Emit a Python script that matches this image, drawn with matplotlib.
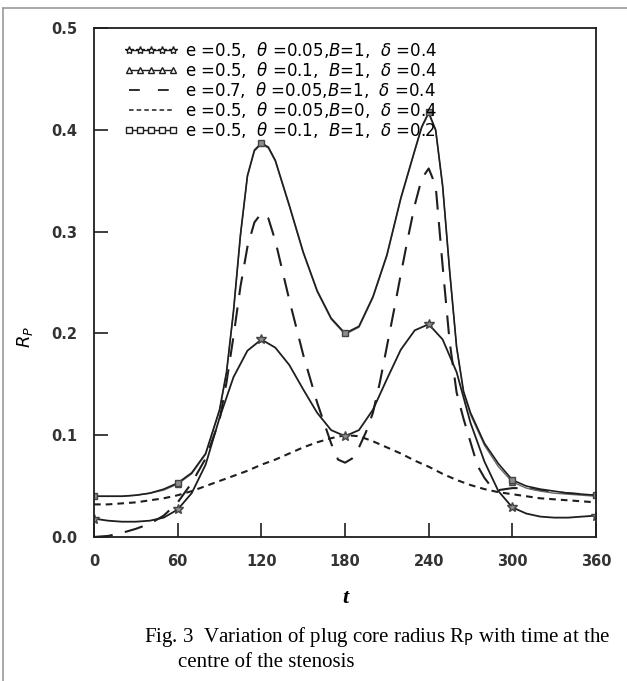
import numpy as np
import matplotlib.pyplot as plt
from matplotlib.lines import Line2D

# t in degrees, R_p
t_star = list(range(0, 361, 10))
r_star = [0.018, 0.016, 0.015, 0.015, 0.016, 0.019, 0.027, 0.043, 0.071, 0.117,
          0.157, 0.183, 0.194, 0.186, 0.169, 0.145, 0.122, 0.105, 0.099, 0.105,
          0.125, 0.155, 0.184, 0.203, 0.209, 0.194, 0.162, 0.112, 0.074, 0.045,
          0.029, 0.023, 0.020, 0.019, 0.019, 0.020, 0.021]

t_sq = [0, 10, 20, 30, 40, 50, 60, 70, 80, 90, 95, 100, 105, 110, 115, 120, 125, 130,
        140, 150, 160, 170, 180, 190, 200, 210, 220, 230, 235, 240, 245, 250, 255,
        260, 265, 270, 280, 290, 300, 310, 320, 330, 340, 350, 360]
r_sq = [0.040, 0.040, 0.040, 0.041, 0.043, 0.047, 0.053, 0.063, 0.082, 0.125, 0.162,
        0.222, 0.297, 0.355, 0.380, 0.387, 0.383, 0.370, 0.326, 0.280, 0.242, 0.215,
        0.200, 0.207, 0.236, 0.277, 0.333, 0.380, 0.403, 0.417, 0.400, 0.345, 0.262,
        0.187, 0.143, 0.122, 0.092, 0.072, 0.056, 0.050, 0.047, 0.045, 0.043, 0.042,
        0.041]
r_tri = [0.040, 0.040, 0.040, 0.041, 0.043, 0.046, 0.052, 0.062, 0.081, 0.124, 0.161,
         0.221, 0.296, 0.354, 0.379, 0.386, 0.382, 0.369, 0.325, 0.279, 0.241, 0.214,
         0.199, 0.206, 0.235, 0.276, 0.332, 0.379, 0.402, 0.416, 0.399, 0.344, 0.261,
         0.186, 0.142, 0.120, 0.090, 0.069, 0.054, 0.048, 0.045, 0.043, 0.042, 0.041,
         0.040]

t_ld = [0, 10, 20, 30, 40, 50, 60, 70, 80, 90, 95, 100, 105, 110, 115, 120, 125, 130,
        140, 150, 160, 170, 175, 180, 185, 190, 195, 200, 205, 210, 215, 220, 225, 230,
        235, 240, 245, 250, 255, 260, 265, 270, 275, 280, 285, 290, 300, 310, 320, 330,
        340, 350, 360]
r_ld = [0.000, 0.001, 0.004, 0.008, 0.013, 0.021, 0.034, 0.053, 0.077, 0.115, 0.152,
        0.197, 0.246, 0.285, 0.309, 0.318, 0.313, 0.291, 0.233, 0.179, 0.132, 0.092,
        0.076, 0.073, 0.077, 0.088, 0.103, 0.122, 0.152, 0.187, 0.222, 0.258, 0.293,
        0.326, 0.352, 0.362, 0.345, 0.266, 0.192, 0.142, 0.116, 0.093, 0.070, 0.058,
        0.049, 0.046, 0.048, 0.048, 0.046, 0.044, 0.043, 0.042, 0.041]

t_sd = list(range(0, 361, 10))
r_sd = [0.032, 0.032, 0.033, 0.034, 0.036, 0.038, 0.041, 0.045, 0.050, 0.055,
        0.060, 0.065, 0.071, 0.076, 0.082, 0.088, 0.093, 0.097, 0.100, 0.099,
        0.094, 0.088, 0.082, 0.075, 0.069, 0.062, 0.056, 0.051, 0.047, 0.044,
        0.042, 0.040, 0.038, 0.037, 0.036, 0.035, 0.034]

labels = [r'e =0.5,  $\theta$ =0.05,$B$=1,  $\delta$ =0.4',
          r'e =0.5,  $\theta$ =0.1,  $B$=1,  $\delta$ =0.4',
          r'e =0.7,  $\theta$ =0.05,$B$=1,  $\delta$ =0.4',
          r'e =0.5,  $\theta$ =0.05,$B$=0,  $\delta$ =0.4',
          r'e =0.5,  $\theta$ =0.1,  $B$=1,  $\delta$ =0.2']

ink = '#1e1e1e'
mk = '#8c8c8c'
mark_idx = [t_sq.index(v) for v in range(0, 361, 60)]

fig = plt.figure(figsize=(6.27, 6.81), dpi=100)
ax = fig.add_axes([0.150, 0.2115, 0.8006, 0.7474])

ax.plot(t_sd, r_sd, color=ink, lw=1.5, dashes=(3.2, 2.4))
ax.plot(t_ld, r_ld, color=ink, lw=1.5, dashes=(9, 6))
ax.plot(t_sq, r_tri, color='#6a6a6a', lw=1.0, marker='^', ms=5, mfc=mk, mec='#444444',
        markevery=[t_sq.index(60), t_sq.index(300)])
ax.plot(t_sq, r_sq, color=ink, lw=1.2, marker='s', ms=4.5, mfc=mk, mec='#444444',
        markevery=mark_idx)
ax.plot(t_star, r_star, color=ink, lw=1.3, marker='*', ms=7, mfc=mk, mec='#444444',
        markevery=6)

ax.set_xlim(0, 360)
ax.set_ylim(0, 0.5)
ax.set_xticks(range(0, 361, 60))
ax.set_yticks([0.0, 0.1, 0.2, 0.3, 0.4, 0.5])
ax.set_yticklabels(['0.0', '0.1', '0.2', '0.3', '0.4', '0.5'])
ax.tick_params(direction='in', length=10, width=1.2, colors=ink, labelsize=10.5,
               top=False, right=False)
ax.tick_params(axis='x', pad=12)
ax.tick_params(axis='y', pad=12)
for lab in ax.get_xticklabels() + ax.get_yticklabels():
    lab.set_fontweight('bold')
    lab.set_color('#333333')
for s in ax.spines.values():
    s.set_linewidth(1.3)
    s.set_color(ink)

ax.set_xlabel('t', fontsize=16, family='Liberation Serif', fontstyle='italic',
              fontweight='bold', labelpad=14)
fig.text(0.040, 0.505, r'$R_P$', rotation=90, fontsize=13, ha='center', va='center',
         family='serif')

handles = [
    Line2D([], [], color=ink, lw=1.0, marker='*', ms=6, mfc='white', mec=ink),
    Line2D([], [], color=ink, lw=1.0, marker='^', ms=4.5, mfc='white', mec=ink),
    Line2D([], [], color=ink, lw=1.3, dashes=(6, 10)),
    Line2D([], [], color=ink, lw=1.1, dashes=(3, 2)),
    Line2D([], [], color=ink, lw=1.0, marker='s', ms=4.5, mfc='white', mec=ink),
]
ax.legend(handles, labels, loc='upper left', bbox_to_anchor=(0.06, 0.977),
          frameon=False, numpoints=5, fontsize=12, handlelength=3.2,
          handletextpad=0.45, labelspacing=0.0, borderpad=0.0, borderaxespad=0.0)

fig.text(0.229, 0.064, 'Fig. 3  Variation of plug core radius R$_\\mathrm{P}$ with time at the',
         fontsize=15, family='Liberation Serif', va='center')
fig.text(0.284, 0.027, 'centre of the stenosis', fontsize=15, family='Liberation Serif',
         va='center')

# scan border
fig.add_artist(Line2D([0.005, 1.0], [0.988, 0.988], color='#9a9a9a', lw=1.2))
fig.add_artist(Line2D([0.005, 0.005], [0.0, 0.988], color='#9a9a9a', lw=1.2))

fig.savefig('out.png', dpi=100)
